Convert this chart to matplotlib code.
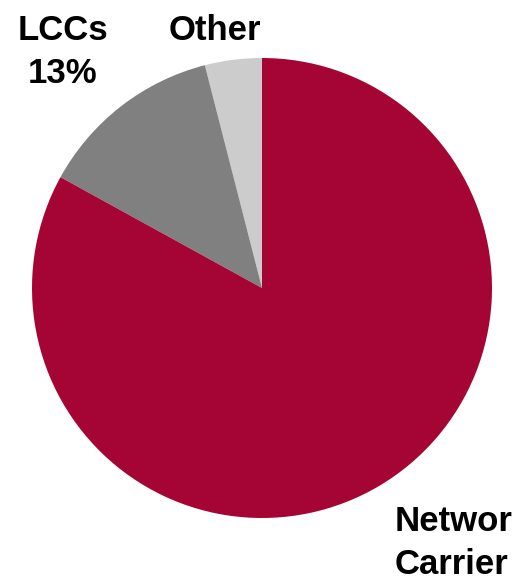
import matplotlib.pyplot as plt

# market share by carrier type
labels = ["Other", "LCCs", "Network Carriers"]
shares = [4, 13, 83]
colors = ["#CCCCCC", "#808080", "#A50534"]

plt.rcParams['font.family'] = ['Liberation Sans', 'DejaVu Sans']

fig = plt.figure(figsize=(5.2, 5.81), dpi=100)
ax = fig.add_axes([0, 0, 1, 1])

ax.pie(shares, colors=colors, startangle=90, counterclock=True,
       center=(262, 293), radius=230, frame=True,
       wedgeprops=dict(linewidth=0))
ax.set_xlim(0, 520)
ax.set_ylim(0, 581)
ax.set_aspect('equal')
ax.axis('off')

font = dict(fontsize=25, fontweight='bold', color='black')
ax.text(63, 567, "LCCs\n%d%%" % shares[1], ha='center', va='top', linespacing=1.4, **font)
ax.text(215, 567, labels[0], ha='center', va='top', **font)
# label box is narrow, only this much of the name shows
ax.text(395, 76, "Networ\nCarrier", ha='left', va='top', linespacing=1.38, **font)

fig.savefig("out.png", dpi=100)
